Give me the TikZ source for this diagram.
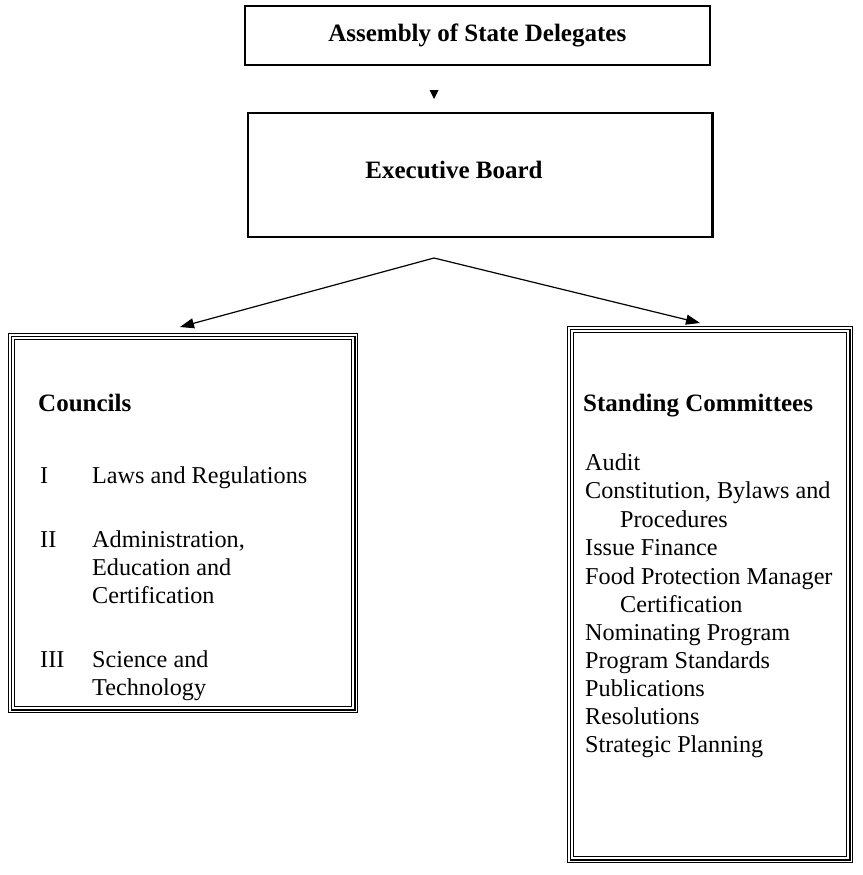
\documentclass[tikz,border=0pt]{standalone}
\usepackage{fontspec}
\setmainfont{Liberation Serif}
\usetikzlibrary{arrows.meta,calc}
\begin{document}
\begin{tikzpicture}[x=1pt,y=-1pt,
  plainbox/.style={draw, line width=1.6pt, inner sep=0pt, anchor=north west},
  tribox/.style={draw, line width=1.2pt, inner sep=0pt, anchor=north west},
  hd/.style={font=\fontsize{25}{28.3}\selectfont\bfseries, inner sep=0pt},
  tx/.style={font=\fontsize{24.2}{28.3}\selectfont, inner sep=0pt, anchor=base west},
  conn/.style={line width=1.2pt, -{Triangle[length=14pt,width=10pt]}}]
\useasboundingbox (0,0) rectangle (862,875);

% top boxes
\node[plainbox, minimum width=465pt, minimum height=59pt] (asm) at (244,5) {};
\node[hd] (asmt) at (asm.center) {Assembly of State Delegates};

\node[plainbox, minimum width=465pt, minimum height=124pt] (exe) at (247,112) {};
\draw[line width=2pt] ($(exe.north east)+(-1.5,0)$) -- ($(exe.south east)+(-1.5,0)$);
\node[hd] (exet) at (454,170) {Executive Board};

% small arrowhead
\coordinate (ah) at (434,90);
\fill (ah) ++(-4.5,0) -- ++(9,0) -- ++(-4.5,9) -- cycle;

% connectors
\coordinate (apex) at (434,258);
\coordinate (tipL) at (180,327);
\coordinate (tipR) at (700,323);
\draw[conn] (apex) -- (tipL);
\draw[conn] (apex) -- (tipR);

% Councils box
\node[tribox, minimum width=349pt, minimum height=379pt] (cou) at (8,333) {};
\draw[line width=1.2pt] ($(cou.north west)+(3.2,3.2)$) rectangle ($(cou.south east)+(-3.2,-3.2)$);
\draw[line width=1.2pt] ($(cou.north west)+(6.4,6.4)$) rectangle ($(cou.south east)+(-6.4,-6.4)$);

% Standing Committees box
\node[tribox, minimum width=285pt, minimum height=536pt] (stc) at (567,326) {};
\draw[line width=1.2pt] ($(stc.north west)+(3.2,3.2)$) rectangle ($(stc.south east)+(-3.2,-3.2)$);
\draw[line width=1.2pt] ($(stc.north west)+(6.4,6.4)$) rectangle ($(stc.south east)+(-6.4,-6.4)$);

% Councils text
\node[hd, anchor=base west] (ct) at (38,411) {Councils};
\node[tx] (c1n) at (40,483) {I};
\node[tx] (c1) at (92,483) {Laws and Regulations};
\node[tx] (c2n) at (40,547) {II};
\node[tx] (c2a) at (92,547) {Administration,};
\node[tx] (c2b) at (92,575) {Education and};
\node[tx] (c2c) at (92,603) {Certification};
\node[tx] (c3n) at (40,667) {III};
\node[tx] (c3a) at (92,667) {Science and};
\node[tx] (c3b) at (92,695) {Technology};

% Standing Committees text
\node[hd, anchor=base west] (st) at (583,411) {Standing Committees};
\node[tx] (s1) at (585,470) {Audit};
\node[tx] (s2) at (585,498) {Constitution, Bylaws and};
\node[tx] (s2b) at (620,527) {Procedures};
\node[tx] (s3) at (585,555) {Issue Finance};
\node[tx] (s4) at (585,584) {Food Protection Manager};
\node[tx] (s4b) at (620,612) {Certification};
\node[tx] (s5) at (585,640) {Nominating Program};
\node[tx] (s6) at (585,668) {Program Standards};
\node[tx] (s7) at (585,696) {Publications};
\node[tx] (s8) at (585,724) {Resolutions};
\node[tx] (s9) at (585,752) {Strategic Planning};
\end{tikzpicture}
\end{document}
